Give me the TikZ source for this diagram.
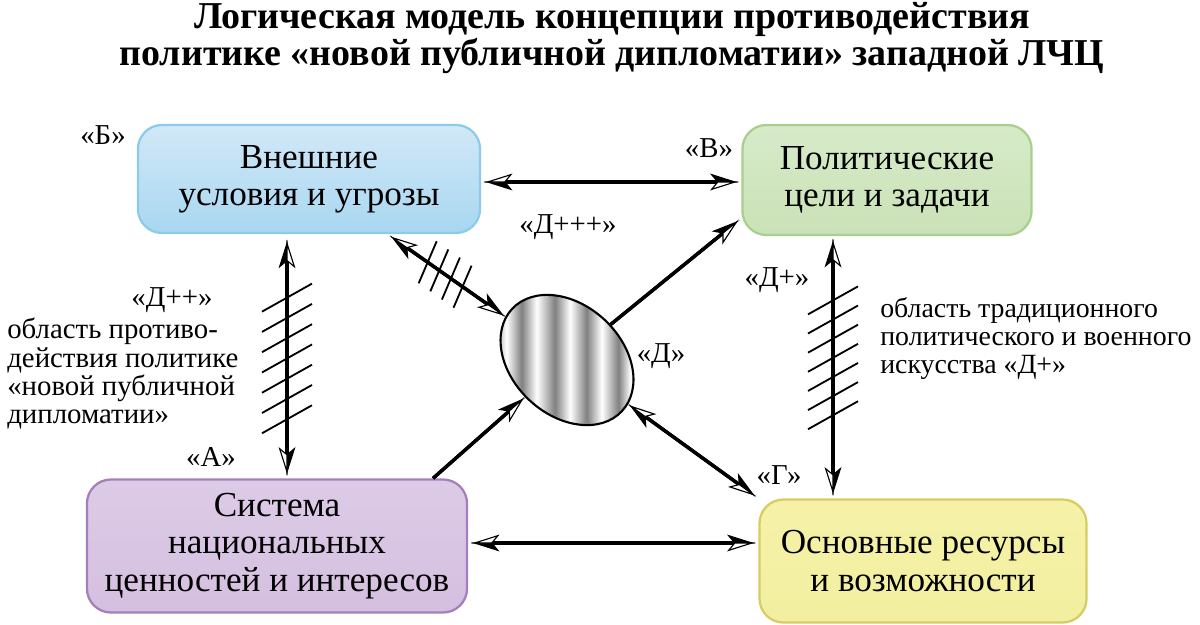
\documentclass[tikz,border=0pt]{standalone}
\usepackage{fontspec}
\setmainfont{Liberation Serif}
\usetikzlibrary{arrows.meta,calc,shapes.geometric}

\definecolor{blueB}{HTML}{8CCBE9}
\definecolor{blueT}{HTML}{D2E8F7}
\definecolor{blueM}{HTML}{E2F0FA}
\definecolor{blueL}{HTML}{A8D7F1}
\definecolor{greenB}{HTML}{A8CF8E}
\definecolor{greenT}{HTML}{D6EAC8}
\definecolor{greenM}{HTML}{E9F3E1}
\definecolor{greenL}{HTML}{CAE2B7}
\definecolor{violB}{HTML}{A47FBB}
\definecolor{violT}{HTML}{DCCBE6}
\definecolor{violM}{HTML}{EDE3F2}
\definecolor{violL}{HTML}{D5BFE0}
\definecolor{yellB}{HTML}{D6CD63}
\definecolor{yellT}{HTML}{F5F2A8}
\definecolor{yellM}{HTML}{FBF9D6}
\definecolor{yellL}{HTML}{F3EFA0}
\definecolor{stripe}{HTML}{808080}

\pgfdeclarehorizontalshading{stripes}{100bp}{color(0bp)=(stripe); color(25bp)=(stripe);
  color(30bp)=(white); color(35bp)=(stripe); color(40bp)=(white); color(46bp)=(stripe);
  color(51bp)=(white); color(56.5bp)=(stripe); color(61.5bp)=(white); color(67bp)=(stripe);
  color(71bp)=(white); color(75bp)=(stripe); color(100bp)=(stripe)}

\tikzset{
  full/.tip={Stealth[harpoon,length=19pt,width=12pt,inset=5pt,line width=0.8pt]},
  hollow/.tip={Stealth[harpoon,swap,open,fill=white,length=19pt,width=12pt,inset=5pt,line width=0.8pt]},
  box/.style={draw, line width=1.6pt, rounded corners=0.6cm, inner sep=0pt, align=center,
    font=\fontsize{25pt}{26.5pt}\selectfont},
  link/.style={line width=2.4pt, -full, shorten >=2pt, postaction={draw, -hollow}},
  dlink/.style={line width=2.4pt, full-full, shorten >=2pt, shorten <=2pt,
    postaction={draw, hollow-hollow}},
  hatch/.style={line width=1.3pt},
  lbl/.style={inner sep=0pt, font=\fontsize{20.5pt}{20pt}\selectfont},
  note/.style={lbl, align=left, anchor=north west}
}

\begin{document}
\begin{tikzpicture}[x=0.025cm, y=-0.025cm]
  \useasboundingbox (0,0) rectangle (1200,624);
  % title
  \node (T) at (612,38) [align=center, inner sep=0pt, font=\fontsize{27pt}{25pt}\selectfont\bfseries]
    {Логическая модель концепции противодействия\\политике «новой публичной дипломатии» западной ЛЧЦ};
  % boxes
  \node (A0_0) at (309,179) [box, draw=blueB, top color=blueT, middle color=blueM, bottom color=blueL,
    minimum width=8.55cm, minimum height=2.7cm] {Внешние\\условия и угрозы};
  \node (A0_1) at (887,180) [box, draw=greenB, top color=greenT, middle color=greenM, bottom color=greenL,
    minimum width=7.225cm, minimum height=2.75cm] {Политические\\цели и задачи};
  \node (A1_0) at (277,546) [box, draw=violB, top color=violT, middle color=violM, bottom color=violL,
    minimum width=9.5cm, minimum height=3.325cm] {Система\\национальных\\ценностей и интересов};
  \node (A1_1) at (923,561) [box, draw=yellB, top color=yellT, middle color=yellM, bottom color=yellL,
    minimum width=8.175cm, minimum height=3.075cm] {Основные ресурсы\\и возможности};
  \node (D) at (567,360) [ellipse, draw, line width=1.5pt, inner sep=0pt, minimum width=3.75cm,
    minimum height=2.75cm, rotate=-43, shading=stripes] {};
  % letters
  \node (lB) at (103,135) [lbl] {«Б»};
  \node (lV) at (709,148) [lbl] {«В»};
  \node (lA) at (211,457) [lbl] {«А»};
  \node (lG) at (779,475) [lbl] {«Г»};
  \node (lD) at (661,356) [lbl] {«Д»};
  \node (lD1) at (777,280) [lbl] {«Д+»};
  \node (lD2) at (172,300) [lbl] {«Д++»};
  \node (lD3) at (568,227) [lbl] {«Д+++»};
  \node (nL) at (7,318) [note] {область противо-\\действия политике\\«новой публичной\\дипломатии»};
  \node (nR) at (880,297) [note, font=\fontsize{19.8pt}{20pt}\selectfont]
    {область традиционного\\политического и военного\\искусства «Д+»};
  % helper lines
  \coordinate (xAB) at (287,0);
  \coordinate (xVG) at (833,0);
  \coordinate (xAD) at (433,0);
  \coordinate (yBV) at (0,182);
  \coordinate (yAG) at (0,543);
  % connectors
  \path (A0_0.east |- yBV) edge [dlink] (A0_1.west |- yBV);
  \path (A1_0.east |- yAG) edge [dlink] (A1_1.west |- yAG);
  \path (A0_0.south -| xAB) edge [dlink, shorten <=4pt] (A1_0.north -| xAB);
  \path (A0_1.south -| xVG) edge [dlink] (A1_1.north -| xVG);
  \path (A0_0) edge [dlink, shorten >=0pt] (D);
  \path (A1_0.north -| xAD) edge [link, shorten >=0pt] (D);
  \path (D) edge [link] ($(A0_1.south west)+(0,-18)$);
  \path (D) edge [dlink, shorten <=0pt] (A1_1.north west);
  % hatching
  \foreach \p in {0.26,0.343,...,0.77}
    \draw [hatch] ($(A0_0.south -| xAB)!\p!(A1_0.north -| xAB)$) ++(-25,14) -- ++(50,-28);
  \foreach \p in {0.245,0.318,...,0.69}
    \draw [hatch] ($(A0_1.south -| xVG)!\p!(A1_1.north -| xVG)$) ++(-25,14) -- ++(50,-28);
  \foreach \p in {0.46,0.505,...,0.6}
    \draw [hatch] ($(A0_0)!\p!(D)$) ++(-9,21) -- ++(18,-42);
\end{tikzpicture}
\end{document}
